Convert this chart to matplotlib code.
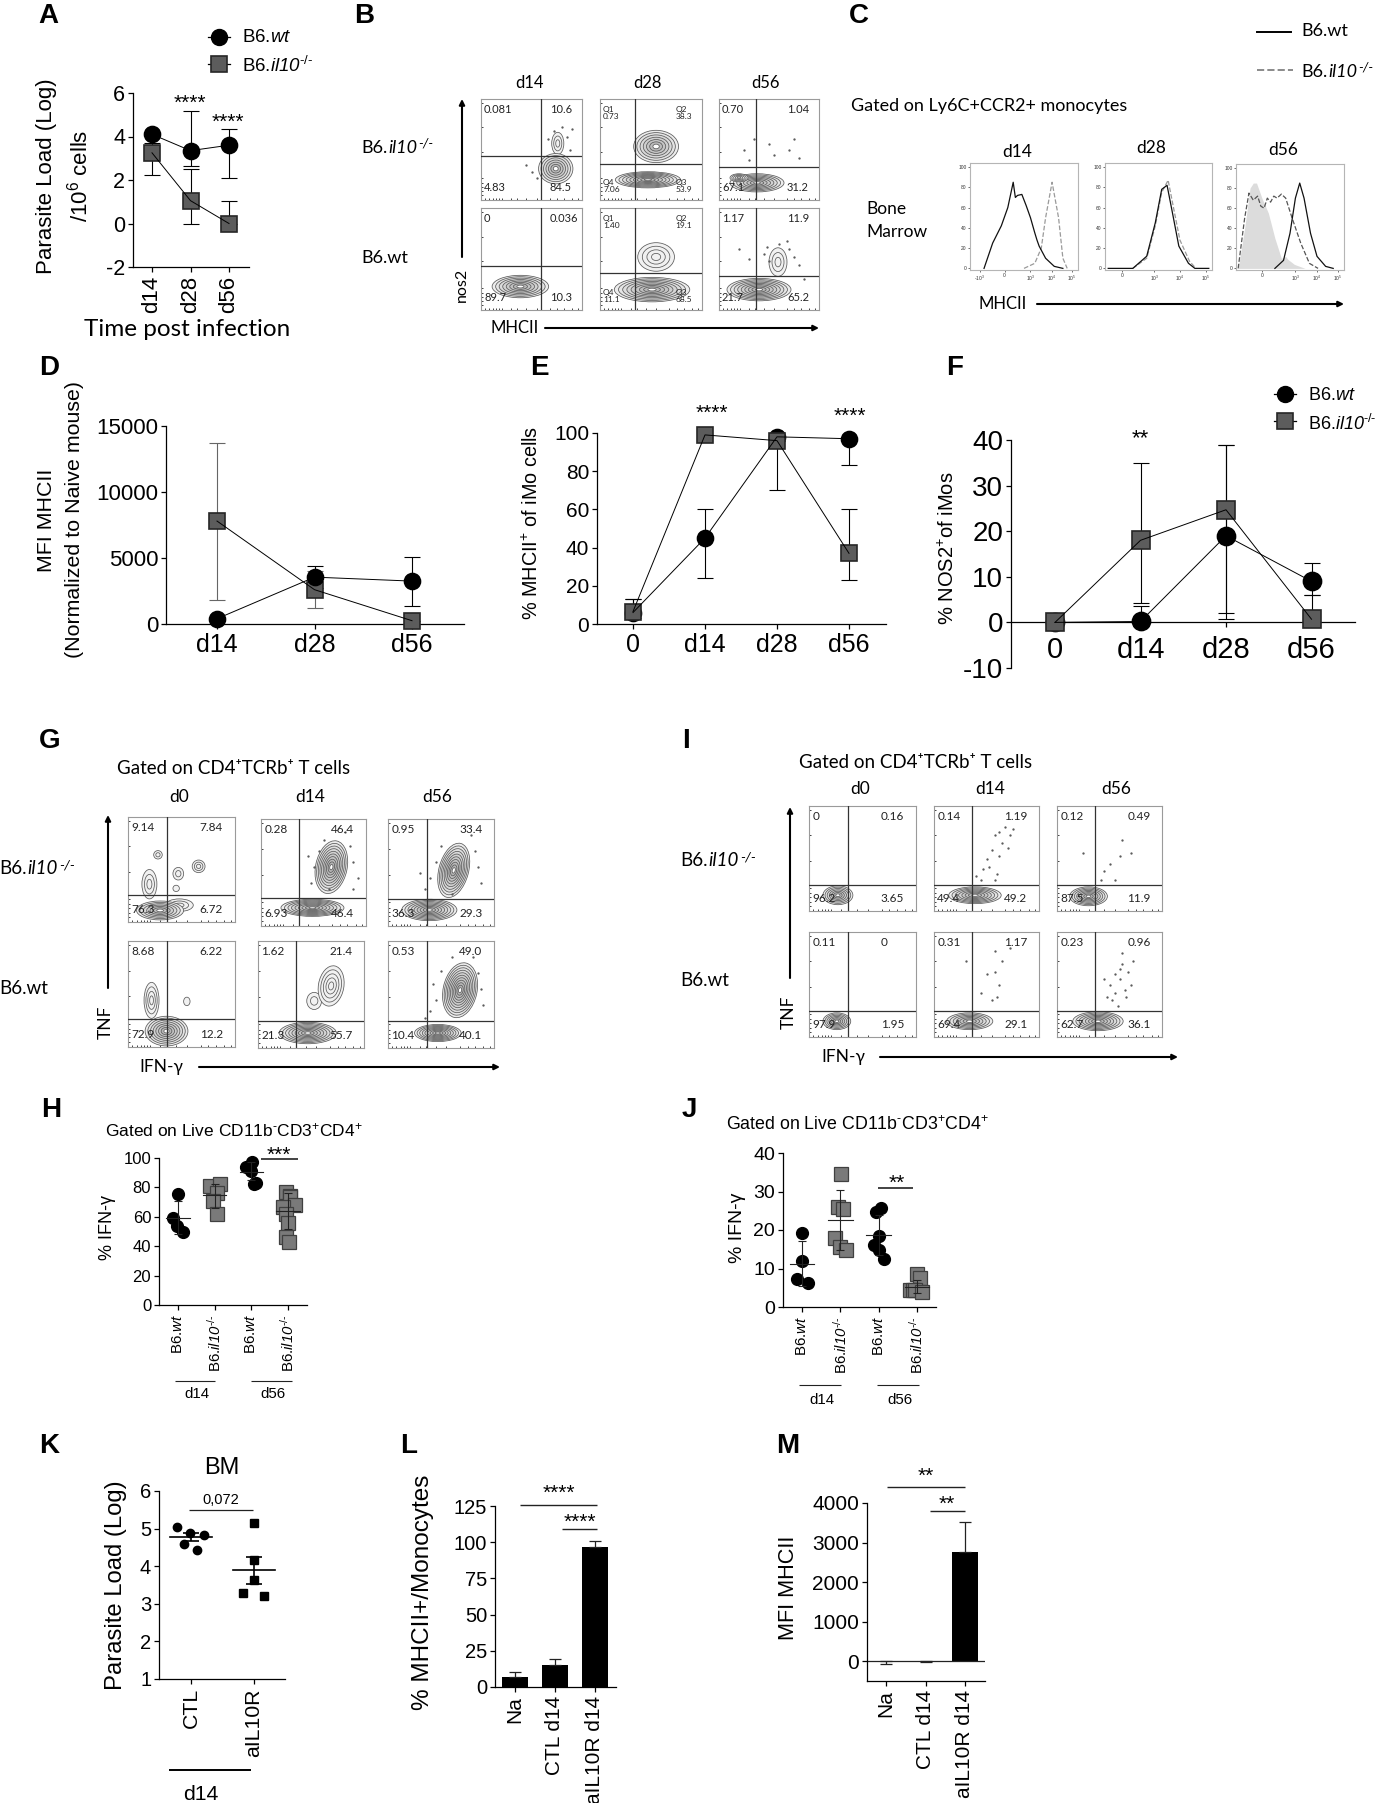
import matplotlib
matplotlib.use("Agg")
import matplotlib.pyplot as plt
from matplotlib.patches import Ellipse

plt.rcParams['font.family'] = ['Liberation Sans', 'DejaVu Sans']
plt.rcParams['mathtext.fontset'] = 'custom'
plt.rcParams['mathtext.rm'] = 'Liberation Sans'
plt.rcParams['mathtext.it'] = 'Liberation Sans:italic'
plt.rcParams['mathtext.cal'] = 'Liberation Sans:italic'
plt.rcParams['mathtext.bf'] = 'Liberation Sans:bold'
plt.rcParams['mathtext.default'] = 'regular'
plt.rcParams['axes.unicode_minus'] = False

W, H = 1386, 1803
WT_LABEL = r'B6.$\mathit{wt}$'
KO_LABEL = r'B6.$\mathcal{il10}^{\mathcal{\text{-/-}}}$'

# panel A
a_ticks = ['d14', 'd28', 'd56']
a_wt = [4.1, 3.35, 3.6]
a_wt_lo = [4.1, 2.65, 2.1]
a_wt_hi = [4.1, 5.15, 4.35]
a_ko = [3.25, 1.05, 0.0]
a_ko_lo = [2.25, 0.0, 0.0]
a_ko_hi = [3.7, 2.5, 1.05]

# panel D
d_ticks = ['d14', 'd28', 'd56']
d_wt = [400, 3550, 3250]
d_wt_lo = [400, 2700, 1400]
d_wt_hi = [400, 4400, 5100]
d_ko = [7800, 2600, 250]
d_ko_lo = [1800, 1200, 250]
d_ko_hi = [13700, 4000, 250]

# panel E
e_ticks = ['0', 'd14', 'd28', 'd56']
e_wt = [6, 45, 98, 97]
e_wt_lo = [6, 24, 98, 83]
e_wt_hi = [13, 60, 98, 97]
e_ko = [6.5, 99, 96, 37]
e_ko_lo = [3, 99, 70, 23]
e_ko_hi = [13, 99, 96, 60]

# panel F
f_ticks = ['0', 'd14', 'd28', 'd56']
f_wt = [0, 0.2, 19, 9]
f_wt_lo = [0, 0, 2, 6]
f_wt_hi = [0, 3.6, 39, 13]
f_ko = [0, 18, 24.7, 0.7]
f_ko_lo = [0, 4.2, 0.7, 0]
f_ko_hi = [0, 35, 39, 6]

# panel C, histograms (x in % of the plot width)
c_d14_wt_x = [13, 21, 29, 35, 40, 42, 44, 48, 52, 54, 56, 60, 62, 64, 70, 78, 86]
c_d14_wt_y = [0, 25, 42, 60, 85, 70, 72, 73, 62, 56, 50, 35, 28, 22, 10, 2, 0]
c_d14_ko_x = [50, 60, 66, 70, 76, 82, 86, 90]
c_d14_ko_y = [0, 5, 20, 50, 85, 50, 10, 0]
c_d28_wt_x = [3, 26, 39, 47, 53, 58, 63, 69, 78, 84, 97]
c_d28_wt_y = [0, 0, 12, 45, 78, 82, 55, 22, 5, 0, 0]
c_d28_ko_x = [26, 39, 47, 53, 59, 64, 70, 79, 85]
c_d28_ko_y = [0, 10, 42, 75, 87, 60, 28, 7, 0]
c_d56_wt_x = [36, 44, 50, 55, 59, 63, 69, 75, 83, 90]
c_d56_wt_y = [0, 8, 35, 70, 85, 70, 35, 12, 2, 0]
c_d56_ko_x = [2, 8, 12, 16, 20, 23, 26, 29, 32, 35, 38, 42, 46, 52, 60, 68, 76]
c_d56_ko_y = [0, 50, 75, 68, 72, 62, 60, 70, 66, 72, 70, 74, 70, 50, 25, 5, 0]
c_d56_na_x = [2, 8, 13, 16, 19, 24, 30, 36, 42, 46, 48, 54, 64]
c_d56_na_y = [0, 40, 80, 85, 85, 70, 55, 30, 10, 12, 9, 4, 0]

# panel H
h_ticks = [WT_LABEL, KO_LABEL, WT_LABEL, KO_LABEL]
h_wt14 = [75.7, 59, 54, 50]
h_wt14_off = [0, -0.14, -0.02, 0.13]
h_ko14 = [80.7, 82, 76, 70.5, 62]
h_ko14_off = [-0.14, 0.14, 0.05, -0.05, 0.05]
h_wt56 = [97, 94, 91, 83, 82.5]
h_wt56_off = [0.01, -0.14, 0, 0.12, 0.06]
h_ko56 = [77, 74, 73.5, 68, 66.5, 62, 56, 46, 43]
h_ko56_off = [-0.06, 0.05, 0.06, 0.18, -0.14, -0.06, 0, -0.05, 0.03]
h_mean = [59.5, 75, 90.5, 64]
h_lo = [48, 66, 84.8, 52]
h_hi = [71, 82, 97, 76]

# panel J
j_ticks = [WT_LABEL, KO_LABEL, WT_LABEL, KO_LABEL]
j_wt14 = [19.1, 12, 7.2, 6.3]
j_wt14_off = [0, 0, -0.13, 0.15]
j_ko14 = [34.5, 26, 25.5, 17.8, 15.7, 14.8]
j_ko14_off = [0.02, -0.07, 0.07, -0.13, 0, 0.14]
j_wt56 = [24.7, 25.6, 18.4, 16, 14.8, 12.4]
j_wt56_off = [-0.07, 0.07, 0, -0.13, 0.02, 0.13]
j_ko56 = [8.7, 7.5, 4.3, 4.3, 4.5, 3.8]
j_ko56_off = [0, 0.07, -0.17, -0.09, -0.04, 0.13]
j_mean = [11.2, 22.5, 18.8, 5.3]
j_lo = [5.5, 14.7, 13.5, 3.6]
j_hi = [17.2, 30.3, 24, 7]

# panel K
k_ticks = ['CTL', 'aIL10R']
k_ctl = [5.03, 4.88, 4.83, 4.58, 4.42]
k_ctl_off = [-0.23, -0.01, 0.21, -0.11, 0.1]
k_anti = [5.16, 4.16, 3.63, 3.28, 3.2]
k_anti_off = [0, 0, 0, -0.17, 0.16]
k_mean = [4.77, 3.9]
k_lo = [4.67, 3.52]
k_hi = [4.87, 4.25]

# panels L and M
l_ticks = ['Na', 'CTL d14', 'aIL10R d14']
l_vals = [7, 15, 97]
l_hi = [10.5, 19.5, 100.5]
m_ticks = ['Na', 'CTL d14', 'aIL10R d14']
m_vals = [0, -5, 2750]
m_lo = [-70, -30, 2750]
m_hi = [0, 0, 3530]

# flow plots: blobs are (x, y, rx, ry, angle, rings), in % of the plot
b_ko14_blobs = [(76, 56, 6, 11, 0, 3), (74, 31, 17, 15, 0, 7)]
b_ko28_blobs = [(55, 53, 22, 16, 0, 7), (47, 20, 32, 8, 0, 9)]
b_ko56_blobs = [(38, 17, 27, 9, 0, 8), (20, 22, 9, 4, 0, 5)]
b_wt14_blobs = [(39, 23, 28, 11, 0, 8)]
b_wt28_blobs = [(55, 52, 18, 14, 0, 4), (51, 20, 37, 12, 0, 9)]
b_wt56_blobs = [(59, 47, 9, 14, 0, 3), (40, 20, 32, 11, 0, 9)]
b_ko14_vals = ['0.081', '10.6', '4.83', '84.5']
b_ko28_vals = ['Q1\n0.73', 'Q2\n38.3', 'Q4\n7.06', 'Q3\n53.9']
b_ko56_vals = ['0.70', '1.04', '67.1', '31.2']
b_wt14_vals = ['0', '0.036', '89.7', '10.3']
b_wt28_vals = ['Q1\n1.40', 'Q2\n19.1', 'Q4\n11.1', 'Q3\n68.5']
b_wt56_vals = ['1.17', '11.9', '21.7', '65.2']
b_ko14_dots = [(80, 72), (72, 68), (85, 62), (66, 60), (88, 50), (45, 35), (50, 28), (55, 22), (90, 70)]
b_wt56_dots = [(60, 65), (70, 60), (75, 52), (50, 48), (45, 55), (80, 44), (48, 62), (68, 68), (30, 50), (20, 60), (85, 30)]
b_ko56_dots = [(25, 50), (35, 60), (50, 55), (70, 50), (75, 60), (55, 45), (30, 40), (80, 42)]

g_ko0_blobs = [(48, 16, 13, 6, 0, 3), (30, 11, 22, 9, 0, 7), (20, 36, 7, 14, 0, 3), (28, 64, 4, 4, 0, 2),
               (47, 46, 5, 6, 0, 2), (66, 53, 6, 6, 0, 3), (45, 32, 3, 3, 0, 1)]
g_ko14_blobs = [(49, 17, 30, 8, 0, 9), (67, 55, 15, 25, -12, 10)]
g_ko56_blobs = [(39, 15, 26, 10, 0, 9), (62, 52, 14, 26, -15, 10)]
g_wt0_blobs = [(36, 15, 20, 14, 0, 8), (22, 44, 7, 17, 0, 4), (55, 43, 3, 4, 0, 1)]
g_wt14_blobs = [(47, 14, 27, 10, 0, 9), (53, 44, 7, 8, 0, 2), (69, 58, 12, 19, -10, 5)]
g_wt56_blobs = [(47, 14, 22, 8, 0, 9), (68, 54, 16, 26, -12, 11)]
g_ko0_vals = ['9.14', '7.84', '76.3', '6.72']
g_ko14_vals = ['0.28', '46.4', '6.93', '46.4']
g_ko56_vals = ['0.95', '33.4', '36.3', '29.3']
g_wt0_vals = ['8.68', '6.22', '72.9', '12.2']
g_wt14_vals = ['1.62', '21.4', '21.3', '55.7']
g_wt56_vals = ['0.53', '49.0', '10.4', '40.1']
g_ko14_dots = [(55, 70), (50, 55), (48, 40), (60, 80), (88, 60), (85, 75), (92, 45), (45, 65), (80, 88), (65, 35), (88, 35)]
g_ko56_dots = [(45, 60), (40, 45), (50, 75), (82, 70), (85, 55), (78, 85), (35, 35), (88, 40), (60, 30), (30, 50)]
g_wt56_dots = [(42, 60), (45, 45), (40, 35), (50, 72), (85, 70), (88, 55), (80, 85), (90, 40), (35, 28), (60, 85)]

i_ko0_blobs = [(27, 15, 14, 9, 0, 7)]
i_ko14_blobs = [(39, 15, 25, 8, 0, 8)]
i_ko56_blobs = [(30, 14, 18, 9, 0, 8)]
i_wt0_blobs = [(26, 15, 13, 8, 0, 7)]
i_wt14_blobs = [(34, 15, 22, 8, 0, 7)]
i_wt56_blobs = [(39, 15, 24, 9, 0, 8)]
i_ko0_vals = ['0', '0.16', '96.2', '3.65']
i_ko14_vals = ['0.14', '1.19', '49.4', '49.2']
i_ko56_vals = ['0.12', '0.49', '87.5', '11.9']
i_wt0_vals = ['0.11', '0', '97.9', '1.95']
i_wt14_vals = ['0.31', '1.17', '69.4', '29.1']
i_wt56_vals = ['0.23', '0.96', '62.7', '36.1']
i_ko14_dots = [(58, 72), (62, 75), (68, 80), (72, 72), (55, 58), (50, 50), (62, 52), (47, 40), (52, 42), (60, 35),
               (45, 30), (70, 60), (65, 65), (40, 33), (58, 30), (75, 78)]
i_ko56_dots = [(60, 52), (45, 38), (50, 45), (62, 68), (70, 55), (25, 55), (42, 30), (55, 30)]
i_wt14_dots = [(58, 82), (65, 72), (58, 62), (62, 50), (50, 60), (45, 42), (60, 38), (30, 72), (72, 85), (55, 35)]
i_wt56_dots = [(50, 50), (55, 60), (62, 70), (60, 55), (68, 62), (55, 42), (48, 38), (65, 45), (58, 30), (72, 72),
               (62, 80), (45, 55), (70, 50), (52, 35), (60, 65), (66, 38)]

fig = plt.figure(figsize=(W / 100, H / 100), dpi=100)


def px_axes(left, right, top, bottom):
    return fig.add_axes([left / W, 1 - bottom / H, (right - left) / W, (bottom - top) / H])


def graph(left, right, top, bottom, x_first, x_step, ymin, ymax, yticks, xlabels, ysize, xsize,
          rotate=False, xpad=3):
    ax = px_axes(left, right, top, bottom)
    ax.patch.set_alpha(0)
    ax.set_xlim((left - x_first) / x_step, (right - x_first) / x_step)
    ax.set_ylim(ymin, ymax)
    ax.spines[['top', 'right']].set_visible(False)
    ax.spines[['left', 'bottom']].set_linewidth(0.9)
    ax.set_yticks(yticks)
    ax.set_xticks(range(len(xlabels)))
    ax.tick_params(width=0.9, length=3.6)
    ax.tick_params(axis='y', labelsize=ysize, pad=2)
    if rotate:
        ax.set_xticklabels(xlabels, rotation=90, fontsize=xsize)
    else:
        ax.set_xticklabels(xlabels, fontsize=xsize)
    ax.tick_params(axis='x', pad=xpad)
    return ax


def series(ax, y, lo, hi, marker, ms=11.5, capsize=5.5, ecolor='k'):
    xs = list(range(len(y)))
    low = [v - l for v, l in zip(y, lo)]
    high = [h - v for v, h in zip(y, hi)]
    ax.errorbar(xs, y, yerr=[low, high], fmt='none', ecolor=ecolor, elinewidth=0.8,
                capsize=capsize, capthick=0.8, zorder=2, clip_on=False)
    color = 'k' if marker == 'o' else '#5c5c5c'
    edge = 'k' if marker == 'o' else '#262626'
    ax.plot(xs, y, 'none', marker=marker, ms=ms, mfc=color, mec=edge, mew=1.2, zorder=3, clip_on=False)
    ax.plot(xs, y, '-', color='k', lw=0.7, zorder=4, clip_on=False)


def scatter_group(ax, pos, vals, offs, marker):
    xs = [pos + o for o in offs]
    if marker == 'o':
        ax.plot(xs, vals, 'o', ms=8.5, mfc='k', mec='k', zorder=2, clip_on=False)
    else:
        ax.plot(xs, vals, 's', ms=9.5, mfc='#7a7a7a', mec='#404040', mew=0.9, zorder=2, clip_on=False)


def mean_bars(ax, mean, lo, hi, half, capsize, lw=0.8, color='#222222'):
    for i, m in enumerate(mean):
        ax.plot([i - half, i + half], [m, m], color=color, lw=lw, zorder=5)
    xs = list(range(len(mean)))
    ax.errorbar(xs, mean, yerr=[[m - l for m, l in zip(mean, lo)], [h - m for m, h in zip(mean, hi)]],
                fmt='none', ecolor=color, elinewidth=lw, capsize=capsize, capthick=lw, zorder=5)


def flow(box, vline, hline, vals, blobs, dots=(), right_x=68, size=8, left_x=3, top_y=90, low_y=12):
    ax = px_axes(*box)
    ax.set_xlim(0, 100)
    ax.set_ylim(0, 100)
    for s in ax.spines.values():
        s.set_color('#9a9a9a')
        s.set_linewidth(0.8)
    ax.set_xticks([4, 8, 12, 15, 18, 21, 30, 36, 45, 55, 68, 75, 82, 90, 96])
    ax.set_yticks([5, 9, 13, 17, 22, 48, 72, 96])
    ax.set_xticklabels([])
    ax.set_yticklabels([])
    ax.tick_params(direction='in', length=1.5, width=0.6, color='#222222')
    for cx, cy, rx, ry, ang, rings in blobs:
        # dense populations get gray shells round a white core
        dense = rings >= 7
        for k in range(rings, 0, -1):
            scale = k / rings
            if not dense:
                face = '#f1f1f1' if k == rings else 'none'
            elif k == 1:
                face = 'white'
            else:
                shade = 0.93 - 0.28 * (rings - k) / rings
                face = (shade, shade, shade)
            ax.add_patch(Ellipse((cx, cy), 2 * rx * scale, 2 * ry * scale, angle=ang, fc=face,
                                 ec='#5a5a5a', lw=0.55, zorder=2))
    if dots:
        ax.plot([d[0] for d in dots], [d[1] for d in dots], '.', ms=1.3, color='#555555', zorder=2)
    ax.axvline(vline, color='#333333', lw=0.9, zorder=3)
    ax.axhline(hline, color='#333333', lw=0.9, zorder=3)
    text_opts = dict(fontsize=size, family=['Lato', 'DejaVu Sans'], va='center', color='#222222', zorder=4,
                     linespacing=1.0)
    ax.text(left_x, top_y, vals[0], ha='left', **text_opts)
    ax.text(right_x, top_y, vals[1], ha='left', **text_opts)
    ax.text(left_x, low_y, vals[2], ha='left', **text_opts)
    ax.text(right_x, low_y, vals[3], ha='left', **text_opts)
    return ax


def histogram(box, curves, filled=None, xt=(), xt_labels=()):
    ax = px_axes(*box)
    ax.set_xlim(0, 100)
    ax.set_ylim(-1.6, 104)
    for s in ax.spines.values():
        s.set_color('#b5b5b5')
        s.set_linewidth(0.8)
    if filled:
        ax.fill_between(filled[0], filled[1], color='#dcdcdc', lw=0)
    for xs, ys, style, color in curves:
        ax.plot(xs, ys, style, color=color, lw=0.9)
    ax.set_yticks([0, 20, 40, 60, 80, 100])
    ax.set_xticks(xt)
    ax.set_xticklabels(xt_labels)
    ax.tick_params(labelsize=3.5, length=1.5, width=0.5, pad=1, colors='#333333')
    return ax


ov = fig.add_axes([0, 0, 1, 1], zorder=20)
ov.set_xlim(0, W)
ov.set_ylim(H, 0)
ov.axis('off')
LATO = ['Lato', 'DejaVu Sans']


def txt(x, y, s, size, ha='center', va='center', rot=0, family=None, **kw):
    if family is None:
        family = ['Liberation Sans', 'DejaVu Sans']
    return ov.text(x, y, s, fontsize=size, ha=ha, va=va, rotation=rot, family=family,
                   rotation_mode='anchor' if rot else 'default', **kw)


def letter(x, y, s):
    txt(x, y, s, 20, ha='left', va='baseline', fontweight='bold')


def stars(x, y, s, size=15):
    txt(x, y + 0.42 * size / 0.72, s, size, va='baseline')


def arrow(x0, y0, x1, y1, lw=1.5):
    ov.annotate('', xy=(x1, y1), xytext=(x0, y0),
                arrowprops=dict(arrowstyle='-|>', lw=lw, color='k', mutation_scale=8, shrinkA=0, shrinkB=0))


def line(x0, x1, y, lw=1.0, color='#222222'):
    ov.plot([x0, x1], [y, y], color=color, lw=lw, solid_capstyle='butt')


def ko_lato(x, y, size=13):
    # upright, italic and superscript parts set one after another
    r = fig.canvas.get_renderer()
    a = txt(x, y, 'B6.', size, ha='left', va='baseline', family=LATO)
    x += a.get_window_extent(r).width + 1
    b = txt(x, y, 'il10', size, ha='left', va='baseline', family=LATO, style='italic')
    x += b.get_window_extent(r).width + 1
    txt(x, y - 5, '-/-', size * 0.75, ha='left', va='baseline', family=LATO, style='italic')


def key(x, y, marker, ms=11.5):
    ov.plot([x - 11, x + 11], [y, y], '-', color='k', lw=0.9)
    if marker == 'o':
        ov.plot([x], [y], 'o', ms=ms, mfc='k', mec='k')
    else:
        ov.plot([x], [y], 's', ms=ms, mfc='#5c5c5c', mec='#262626', mew=1.2)


# A
ax = graph(133, 249, 93, 267, 152, 38.5, -2, 6, [-2, 0, 2, 4, 6], a_ticks, 15.5, 16, rotate=True)
series(ax, a_ko, a_ko_lo, a_ko_hi, 's')
series(ax, a_wt, a_wt_lo, a_wt_hi, 'o')
letter(38, 23, 'A')
key(219, 37, 'o')
key(219, 64, 's')
txt(242, 38, WT_LABEL, 13.5, ha='left')
txt(242, 66, KO_LABEL, 13.5, ha='left')
txt(47, 176, 'Parasite Load (Log)', 16, rot=90)
txt(80, 176, r'/10$^{6}$ cells', 16, rot=90)
stars(190, 100, '****')
stars(228, 119, '****')
txt(187, 330, 'Time post infection', 17.5, family=LATO)

# B
letter(354, 23, 'B')
for x, s in [(529, 'd14'), (647, 'd28'), (766, 'd56')]:
    txt(x, 83, s, 12, family=LATO)
ko_lato(361, 153)
txt(361, 258, 'B6.wt', 13, ha='left', family=LATO)
txt(462, 285, 'nos2', 11.5, rot=90, family=LATO)
arrow(462, 257, 462, 99)
txt(490, 328, 'MHCII', 12, ha='left', family=LATO)
arrow(545, 328, 819, 328)
flow((481, 582, 99, 200), 59.6, 44, b_ko14_vals, b_ko14_blobs, b_ko14_dots)
flow((600, 702, 99, 200), 34.5, 36, b_ko28_vals, b_ko28_blobs, right_x=74, size=6, top_y=86, low_y=14)
flow((719, 819, 99, 200), 37, 33, b_ko56_vals, b_ko56_blobs, b_ko56_dots)
flow((481, 582, 208, 310), 59.6, 43.3, b_wt14_vals, b_wt14_blobs)
flow((600, 702, 208, 310), 34.5, 36, b_wt28_vals, b_wt28_blobs, right_x=74, size=6, top_y=86, low_y=14)
flow((719, 819, 208, 310), 37, 33, b_wt56_vals, b_wt56_blobs, b_wt56_dots)

# C
letter(849, 23, 'C')
ov.plot([1257, 1291], [32, 32], color='k', lw=1.4)
ov.plot([1257, 1293], [70, 70], '--', color='#8a8a8a', lw=1.4)
txt(1301, 31, 'B6.wt', 13, ha='left', family=LATO)
ko_lato(1301, 77, 13)
txt(851, 106, 'Gated on Ly6C+CCR2+ monocytes', 13, ha='left', family=LATO)
txt(1017, 152, 'd14', 12.5, family=LATO)
txt(1151, 148, 'd28', 12.5, family=LATO)
txt(1283, 150, 'd56', 12.5, family=LATO)
txt(866, 209, 'Bone', 12.5, ha='left', family=LATO)
txt(866, 232, 'Marrow', 12.5, ha='left', family=LATO)
txt(979, 304, 'MHCII', 12, ha='left', family=LATO)
arrow(1037, 304, 1344, 304)
GRAY_DASH = '#9a9a9a'
histogram((970, 1078, 163, 270),
          [(c_d14_ko_x, c_d14_ko_y, '--', GRAY_DASH), (c_d14_wt_x, c_d14_wt_y, '-', '#111111')],
          xt=[9, 32, 56, 76, 94], xt_labels=['-10$^3$', '0', '10$^3$', '10$^4$', '10$^5$'])
histogram((1105, 1212, 163, 270),
          [(c_d28_ko_x, c_d28_ko_y, '--', GRAY_DASH), (c_d28_wt_x, c_d28_wt_y, '-', '#111111')],
          xt=[16, 46, 70, 94], xt_labels=['0', '10$^3$', '10$^4$', '10$^5$'])
histogram((1236, 1344, 164, 270),
          [(c_d56_ko_x, c_d56_ko_y, '--', '#555555'), (c_d56_wt_x, c_d56_wt_y, '-', '#111111')],
          filled=(c_d56_na_x, c_d56_na_y),
          xt=[24, 55, 75, 94], xt_labels=['0', '10$^3$', '10$^4$', '10$^5$'])

# D
ax = graph(166, 464, 426, 624, 217, 97.5, 0, 15000, [0, 5000, 10000, 15000], d_ticks, 16, 18)
series(ax, d_ko, d_ko_lo, d_ko_hi, 's', ecolor='#666666')
series(ax, d_wt, d_wt_lo, d_wt_hi, 'o')
letter(39, 375, 'D')
txt(47, 520, 'MFI MHCII', 15.4, rot=90)
txt(75, 520, '(Normalized to Naive mouse)', 15.4, rot=90)

# E
ax = graph(597, 886, 433, 624, 633, 72, 0, 100, [0, 20, 40, 60, 80, 100], e_ticks, 15, 18)
series(ax, e_wt, e_wt_lo, e_wt_hi, 'o')
series(ax, e_ko, e_ko_lo, e_ko_hi, 's')
letter(530, 375, 'E')
txt(532, 523, r'% MHCII$^{+}$ of iMo cells', 14.3, rot=90)
stars(712, 410, '****')
stars(850, 413, '****')

# F
ax = graph(1011, 1355, 440, 668, 1055, 85.5, -10, 40, [-10, 0, 10, 20, 30, 40], f_ticks, 20, 21, xpad=2)
ax.spines['bottom'].set_position(('data', 0))
ax.tick_params(axis='x', labelsize=21, pad=6)
series(ax, f_wt, f_wt_lo, f_wt_hi, 'o', ms=13)
series(ax, f_ko, f_ko_lo, f_ko_hi, 's', ms=13)
letter(946, 375, 'F')
key(1285, 394, 'o')
key(1285, 421, 's')
txt(1308, 395, WT_LABEL, 13, ha='left')
txt(1308, 424, KO_LABEL, 13, ha='left')
txt(948, 548, r'% NOS2$^{+}$of iMos', 14.5, rot=90)
stars(1140, 435, '**', 16)

# G
letter(39, 748, 'G')
ov.text(117, 769, 'Gated on CD4\u207aTCRb\u207a T cells', fontsize=13.5, ha='left', va='center', family=LATO)
for x, s in [(179, 'd0'), (310, 'd14'), (437, 'd56')]:
    txt(x, 797, s, 12.5, family=LATO)
ko_lato(-1, 874, 13.5)
txt(-1, 989, 'B6.wt', 13.5, ha='left', family=LATO)
arrow(108, 988, 108, 815)
txt(106, 1022, 'TNF', 12.5, rot=90, family=LATO)
txt(139, 1067, 'IFN-\u03b3', 12.5, ha='left', family=LATO)
arrow(199, 1067, 500, 1067)
flow((128, 235, 817, 922), 36.4, 25.4, g_ko0_vals, g_ko0_blobs, right_x=67, size=8.5)
flow((261, 366, 819, 926), 36.5, 26, g_ko14_vals, g_ko14_blobs, g_ko14_dots, right_x=67, size=8.5)
flow((388, 494, 819, 926), 36.7, 25, g_ko56_vals, g_ko56_blobs, g_ko56_dots, right_x=67, size=8.5)
flow((128, 235, 941, 1047), 36.4, 26, g_wt0_vals, g_wt0_blobs, right_x=67, size=8.5)
flow((258, 364, 941, 1048), 36.3, 25, g_wt14_vals, g_wt14_blobs, right_x=67, size=8.5)
flow((388, 494, 941, 1048), 36.7, 25, g_wt56_vals, g_wt56_blobs, g_wt56_dots, right_x=67, size=8.5)

# I
letter(682, 748, 'I')
ov.text(799, 763, 'Gated on CD4\u207aTCRb\u207a T cells', fontsize=13.5, ha='left', va='center', family=LATO)
for x, s in [(860, 'd0'), (990, 'd14'), (1116, 'd56')]:
    txt(x, 789, s, 12.5, family=LATO)
ko_lato(680, 866, 13.5)
txt(680, 980, 'B6.wt', 13.5, ha='left', family=LATO)
arrow(790, 978, 790, 807)
txt(789, 1012, 'TNF', 12.5, rot=90, family=LATO)
txt(821, 1057, 'IFN-\u03b3', 12.5, ha='left', family=LATO)
arrow(880, 1057, 1178, 1057)
flow((809, 916, 806, 911), 36.5, 25, i_ko0_vals, i_ko0_blobs, right_x=67, size=8.5)
flow((934, 1039, 806, 911), 36.4, 25, i_ko14_vals, i_ko14_blobs, i_ko14_dots, right_x=67, size=8.5)
flow((1057, 1162, 806, 911), 36.5, 25, i_ko56_vals, i_ko56_blobs, i_ko56_dots, right_x=67, size=8.5)
flow((809, 916, 932, 1037), 36.5, 25, i_wt0_vals, i_wt0_blobs, right_x=67, size=8.5)
flow((934, 1039, 932, 1037), 36, 25, i_wt14_vals, i_wt14_blobs, i_wt14_dots, right_x=67, size=8.5)
flow((1057, 1162, 932, 1037), 36.5, 25, i_wt56_vals, i_wt56_blobs, i_wt56_dots, right_x=67, size=8.5)

# H
ax = graph(159, 307, 1158, 1305, 178, 36.7, 0, 100, [0, 20, 40, 60, 80, 100], h_ticks, 12, 10.8, rotate=True)
scatter_group(ax, 0, h_wt14, h_wt14_off, 'o')
scatter_group(ax, 1, h_ko14, h_ko14_off, 's')
scatter_group(ax, 2, h_wt56, h_wt56_off, 'o')
scatter_group(ax, 3, h_ko56, h_ko56_off, 's')
mean_bars(ax, h_mean, h_lo, h_hi, 0.32, 3)
letter(41, 1117, 'H')
txt(105, 1130, r'Gated on Live CD11b$^{\text{-}}$CD3$^{+}$CD4$^{+}$', 12.5, ha='left')
txt(107, 1227, '% IFN-\u03b3', 13, rot=90)
stars(279, 1152, '***', 15)
line(261, 298, 1159, lw=1.2)
line(175, 215, 1381, lw=0.8)
line(251, 292, 1381, lw=0.8)
txt(197, 1394, 'd14', 10.8)
txt(273, 1394, 'd56', 10.8)

# J
ax = graph(783, 936, 1153, 1307, 802, 38.3, 0, 40, [0, 10, 20, 30, 40], j_ticks, 14, 10.8, rotate=True)
scatter_group(ax, 0, j_wt14, j_wt14_off, 'o')
scatter_group(ax, 1, j_ko14, j_ko14_off, 's')
scatter_group(ax, 2, j_wt56, j_wt56_off, 'o')
scatter_group(ax, 3, j_ko56, j_ko56_off, 's')
mean_bars(ax, j_mean, j_lo, j_hi, 0.32, 3)
letter(682, 1117, 'J')
txt(726, 1125, r'Gated on Live CD11b$^{\text{-}}$CD3$^{+}$CD4$^{+}$', 12.8, ha='left')
txt(737, 1228, '% IFN-\u03b3', 14, rot=90)
stars(897, 1180, '**', 15)
line(878, 913, 1188, lw=1.2)
line(799, 841, 1385, lw=0.8)
line(877, 919, 1385, lw=0.8)
txt(822, 1400, 'd14', 10.8)
txt(900, 1400, 'd56', 10.8)

# K
ax = graph(159, 285, 1491, 1679, 191, 63, 1, 6, [1, 2, 3, 4, 5, 6], k_ticks, 14.5, 15.3, rotate=True)
ax.plot([o for o in k_ctl_off], k_ctl, 'o', ms=6, color='k', zorder=3)
ax.plot([1 + o for o in k_anti_off], k_anti, 's', ms=5.5, color='k', zorder=3)
mean_bars(ax, k_mean, k_lo, k_hi, 0.33, 5.5, lw=1.2, color='k')
letter(39, 1453, 'K')
txt(222, 1468, 'BM', 17)
txt(221, 1500, '0,072', 10.5)
line(189, 253, 1510, lw=0.9)
line(169, 251, 1770, lw=1.4, color='k')
txt(201, 1794, 'd14', 15.3)
txt(116, 1585, 'Parasite Load (Log)', 17.2, rot=90)

# L
ax = graph(495, 616, 1506, 1687, 515, 40, 0, 125, [0, 25, 50, 75, 100, 125], l_ticks, 14.5, 15, rotate=True)
ax.bar(range(3), l_vals, width=0.66, color='k')
ax.errorbar(range(3), l_vals, yerr=[[0, 0, 0], [h - v for h, v in zip(l_hi, l_vals)]], fmt='none',
            ecolor='#222222', elinewidth=0.9, capsize=4.5, capthick=0.9)
letter(400, 1453, 'L')
txt(423, 1592, '% MHCII+/Monocytes', 17.5, rot=90)
stars(559, 1490, '****')
line(520, 597, 1505)
stars(580, 1519, '****')
line(562, 597, 1529)

# M
ax = graph(867, 985, 1503, 1681, 886, 39.5, -500, 4000, [0, 1000, 2000, 3000, 4000], m_ticks, 15, 15, rotate=True)
ax.bar(range(3), m_vals, width=0.66, color='k')
ax.axhline(0, color='#222222', lw=0.9)
ax.errorbar(range(3), m_vals, yerr=[[v - l for v, l in zip(m_vals, m_lo)], [h - v for v, h in zip(m_vals, m_hi)]],
            fmt='none', ecolor='#222222', elinewidth=0.9, capsize=4.5, capthick=0.9)
letter(776, 1453, 'M')
txt(789, 1588, 'MFI MHCII', 15.6, rot=90)
stars(926, 1473, '**')
line(887, 965, 1487)
stars(947, 1501, '**')
line(930, 965, 1511)

fig.savefig('out.png', dpi=100)
